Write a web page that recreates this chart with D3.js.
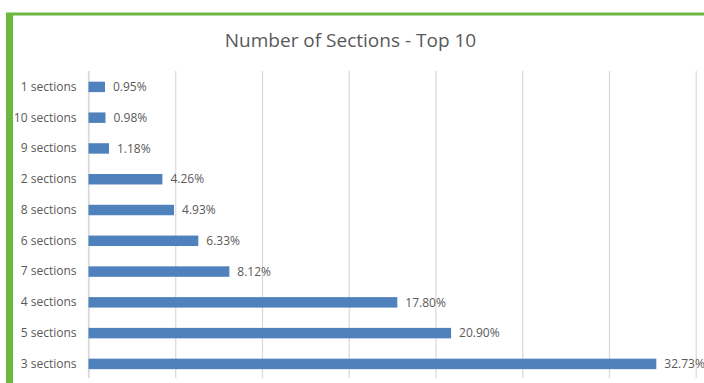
<!DOCTYPE html>
<html>
<head>
<meta charset="utf-8">
<script src="https://cdn.jsdelivr.net/npm/d3@7"></script>
<style>
  html, body { margin: 0; padding: 0; background: #fff; }
  svg { display: block; }
  text { font-family: "Open Sans", sans-serif; fill: #595959; }
</style>
</head>
<body>
<svg id="chart" width="704" height="383"></svg>
<script>
// Share of records by number of sections (top 10), in percent
const categories = ["1 sections", "10 sections", "9 sections", "2 sections", "8 sections",
                    "6 sections", "7 sections", "4 sections", "5 sections", "3 sections"];
const values = [0.95, 0.98, 1.18, 4.26, 4.93, 6.33, 8.12, 17.80, 20.90, 32.73];
const gridTicks = [0, 5, 10, 15, 20, 25, 30, 35];
const title = "Number of Sections - Top 10";

const svg = d3.select("#chart");
const W = 704, H = 383;

// frame accent
svg.append("rect").attr("x", 13).attr("y", 12.5).attr("width", W - 13).attr("height", 3).attr("fill", "#6cb740");
svg.append("rect").attr("x", 6).attr("y", 12.5).attr("width", 7).attr("height", H - 12.5).attr("fill", "#6cb740");

const x = d3.scaleLinear().domain([0, 35]).range([88.5, 695.7]);
const y = d3.scaleBand().domain(categories).range([71.5, 379.3])
  .paddingInner(0.66).paddingOuter(0.33);

const plotTop = 71, plotBottom = 378;

// vertical gridlines
svg.append("g")
  .attr("transform", `translate(0,${plotBottom})`)
  .call(d3.axisBottom(x).tickValues(gridTicks).tickSize(-(plotBottom - plotTop)).tickFormat(""))
  .call(g => g.select(".domain").remove())
  .call(g => g.selectAll(".tick line").attr("stroke", "#d9d9d9").attr("stroke-width", 1.2));

// category axis
svg.append("g")
  .attr("transform", `translate(${x(0)},0)`)
  .call(d3.axisLeft(y).tickSize(0).tickPadding(12))
  .call(g => g.select(".domain").attr("stroke", "#d9d9d9").attr("stroke-width", 1.2)
    .attr("d", `M0,${plotTop}V${plotBottom}`))
  .call(g => g.selectAll(".tick text")
    .style("font-family", "'Open Sans', sans-serif")
    .style("font-size", "12px").attr("fill", "#595959"));

const data = categories.map((c, i) => ({ c, v: values[i] }));

svg.append("g").selectAll("rect")
  .data(data).join("rect")
  .attr("x", x(0))
  .attr("y", d => y(d.c))
  .attr("width", d => x(d.v) - x(0))
  .attr("height", y.bandwidth())
  .attr("fill", "#4f81bd");

svg.append("g").selectAll("text")
  .data(data).join("text")
  .attr("x", d => x(d.v) + 8)
  .attr("y", d => y(d.c) + y.bandwidth() / 2)
  .attr("dy", "0.35em")
  .style("font-size", "12px")
  .text(d => d.v.toFixed(2) + "%");

svg.append("text")
  .attr("x", 350.5)
  .attr("y", 47)
  .attr("text-anchor", "middle")
  .style("font-size", "19px")
  .text(title);
</script>
</body>
</html>
